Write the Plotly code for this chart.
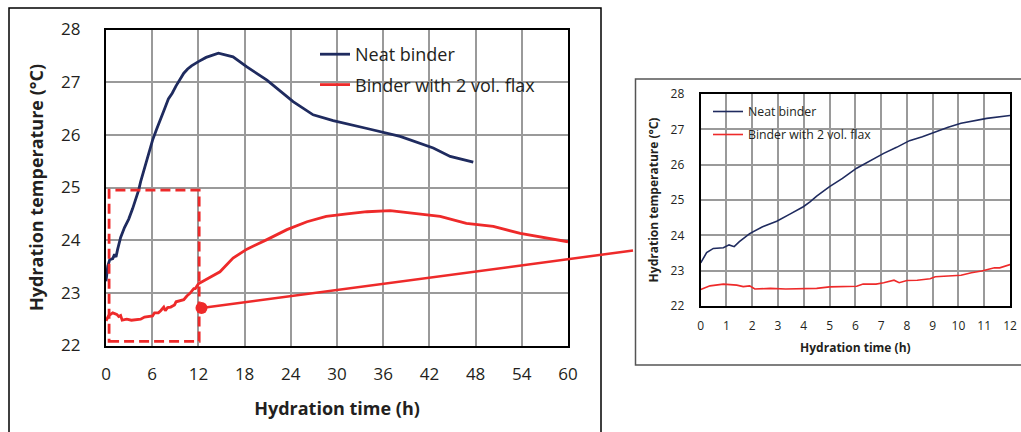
import plotly.graph_objects as go

# ---------------- data ----------------
neat_t = [0, 0.23, 0.49, 0.88, 1.1, 1.3, 1.5, 1.9, 2.4, 2.95, 3.46, 3.98, 4.24, 4.5,
          5.0, 5.5, 6.05, 6.56, 7.1, 7.6, 8.1, 8.6, 9.1, 9.6, 10.1, 10.6, 11.1, 12.0,
          13.0, 14.6, 16.5, 18.3, 20.9, 24.3, 26.9, 29.5, 31.7, 33.9, 38.2, 42.5,
          44.7, 47.7]
neat_T = [23.22, 23.51, 23.63, 23.65, 23.73, 23.68, 23.82, 24.05, 24.24, 24.40, 24.60,
          24.81, 24.95, 25.11, 25.38, 25.61, 25.90, 26.10, 26.32, 26.49, 26.68, 26.79,
          26.93, 27.06, 27.17, 27.25, 27.31, 27.39, 27.47, 27.55, 27.48, 27.29, 27.04,
          26.63, 26.38, 26.27, 26.20, 26.12, 25.97, 25.75, 25.59, 25.48]

flax_t = [0, 0.36, 0.88, 1.4, 1.65, 1.9, 2.1, 2.7, 3.3, 3.95, 4.5, 5.0, 5.5, 6.05, 6.3,
          6.8, 7.1, 7.5, 7.7, 8.0, 8.4, 8.9, 9.1, 9.9, 10.1, 10.5, 10.9, 11.4, 11.6,
          12.0, 14.8, 16.5, 18.3, 20.9, 23.5, 26.1, 28.6, 31.3, 33.9, 36.9, 40.3, 43.4,
          46.8, 50.3, 53.8, 57.2, 60.0]
flax_T = [22.47, 22.57, 22.62, 22.59, 22.55, 22.57, 22.48, 22.50, 22.48, 22.49, 22.50,
          22.54, 22.55, 22.56, 22.62, 22.62, 22.66, 22.73, 22.66, 22.72, 22.73, 22.77,
          22.83, 22.87, 22.87, 22.94, 22.99, 23.08, 23.08, 23.17, 23.40, 23.66, 23.83,
          24.01, 24.20, 24.35, 24.45, 24.50, 24.54, 24.56, 24.51, 24.45, 24.32, 24.26,
          24.13, 24.05, 23.97]

series_names = ["Neat binder", "Binder with 2 vol. flax"]
zoom_box_t = [0.4, 12.1]
zoom_box_T = [22.08, 24.95]
marker_t = [12.4]
marker_T = [22.71]

x_title = "Hydration time (h)"
y_title = "Hydration temperature (°C)"

# ---------------- layout geometry ----------------
W, H = 1021, 432
NAVY = "#1f2b5f"
RED = "#ee2a2a"
GRID = "#9a9a9a"
FONT = "Open Sans"

main_xr, main_yr = [0, 60], [22, 28]
ins_xr, ins_yr = [0, 12], [22, 28]
main_xd = [106 / W, 568 / W]
main_yd = [1 - 345.5 / H, 1 - 29.5 / H]
ins_xd = [700.7 / W, 1010 / W]
ins_yd = [1 - 306 / H, 1 - 94 / H]


def to_paper(v, rng, dom):
    return dom[0] + (v - rng[0]) / (rng[1] - rng[0]) * (dom[1] - dom[0])


fig = go.Figure()

fig.add_trace(go.Scatter(x=neat_t, y=neat_T, name=series_names[0], mode="lines",
                         line=dict(color=NAVY, width=2.8), xaxis="x", yaxis="y",
                         legend="legend", legendgroup="a"))
fig.add_trace(go.Scatter(x=flax_t, y=flax_T, name=series_names[1], mode="lines",
                         line=dict(color=RED, width=2.8), xaxis="x", yaxis="y",
                         legend="legend", legendgroup="b"))
fig.add_trace(go.Scatter(x=marker_t, y=marker_T, mode="markers", showlegend=False,
                         marker=dict(color=RED, size=12), xaxis="x", yaxis="y",
                         cliponaxis=False))
fig.add_trace(go.Scatter(x=neat_t, y=neat_T, name=series_names[0], mode="lines",
                         line=dict(color=NAVY, width=1.6), xaxis="x2", yaxis="y2",
                         legend="legend2", legendgroup="c"))
fig.add_trace(go.Scatter(x=flax_t, y=flax_T, name=series_names[1], mode="lines",
                         line=dict(color=RED, width=1.6), xaxis="x2", yaxis="y2",
                         legend="legend2", legendgroup="d"))

axis_common = dict(showgrid=True, gridcolor=GRID, gridwidth=1.5, zeroline=False,
                   showline=True, linecolor="black", mirror=True, ticks="",
                   automargin=False)

fig.update_layout(
    template="none",
    width=W, height=H, autosize=False,
    margin=dict(l=0, r=0, t=0, b=0, pad=0),
    paper_bgcolor="white", plot_bgcolor="white",
    font=dict(family=FONT, color="#231f20"),
    xaxis=dict(domain=main_xd, range=main_xr, dtick=6, tick0=0, linewidth=2.2,
               tickfont=dict(size=17), ticklabelstandoff=12,
               title=dict(text="<b>" + x_title + "</b>", font=dict(size=18), standoff=18),
               anchor="y", **axis_common),
    yaxis=dict(domain=main_yd, range=main_yr, dtick=1, linewidth=2.2,
               tickfont=dict(size=17), ticklabelstandoff=20,
               title=dict(text="<b>" + y_title + "</b>", font=dict(size=18), standoff=13),
               anchor="x", **axis_common),
    xaxis2=dict(domain=ins_xd, range=ins_xr, dtick=1, tick0=0, linewidth=2,
                tickfont=dict(size=12), ticklabelstandoff=8,
                title=dict(text="<b>" + x_title + "</b>", font=dict(size=12), standoff=10),
                anchor="y2", **axis_common),
    yaxis2=dict(domain=ins_yd, range=ins_yr, dtick=1, linewidth=2,
                tickfont=dict(size=12), ticklabelstandoff=12,
                title=dict(text="<b>" + y_title + "</b>", font=dict(size=12), standoff=9),
                anchor="x2", **axis_common),
    legend=dict(x=315 / W, y=1 - 36 / H, xanchor="left", yanchor="top",
                bgcolor="rgba(0,0,0,0)", font=dict(size=18, color="#231f20"),
                traceorder="grouped", tracegroupgap=4),
    legend2=dict(x=708 / W, y=1 - 97 / H, xanchor="left", yanchor="top",
                 bgcolor="rgba(0,0,0,0)", font=dict(size=12.3, color="#231f20"),
                 traceorder="grouped", tracegroupgap=4),
    showlegend=True,
)

shapes = [
    # outer frame of main chart
    dict(type="rect", xref="paper", yref="paper", x0=9 / W, x1=601 / W,
         y0=-0.05, y1=1 - 8 / H, line=dict(color="black", width=1.5), layer="below"),
    # outer frame of inset
    dict(type="rect", xref="paper", yref="paper", x0=635.5 / W, x1=1.02,
         y0=1 - 365 / H, y1=1 - 79 / H, line=dict(color="#555555", width=1.5), layer="below"),
    # zoom rectangle
    dict(type="rect", xref="x", yref="y", x0=zoom_box_t[0], x1=zoom_box_t[1],
         y0=zoom_box_T[0], y1=zoom_box_T[1],
         line=dict(color=RED, width=2.8, dash="10px,5px"), layer="above"),
    # connector from marker to inset frame
    dict(type="line", xref="paper", yref="paper",
         x0=to_paper(marker_t[0], main_xr, main_xd),
         y0=to_paper(marker_T[0], main_yr, main_yd),
         x1=633 / W, y1=1 - 250.5 / H,
         line=dict(color=RED, width=2.5), layer="above"),
]
fig.update_layout(shapes=shapes)

fig.write_html("out.html")
